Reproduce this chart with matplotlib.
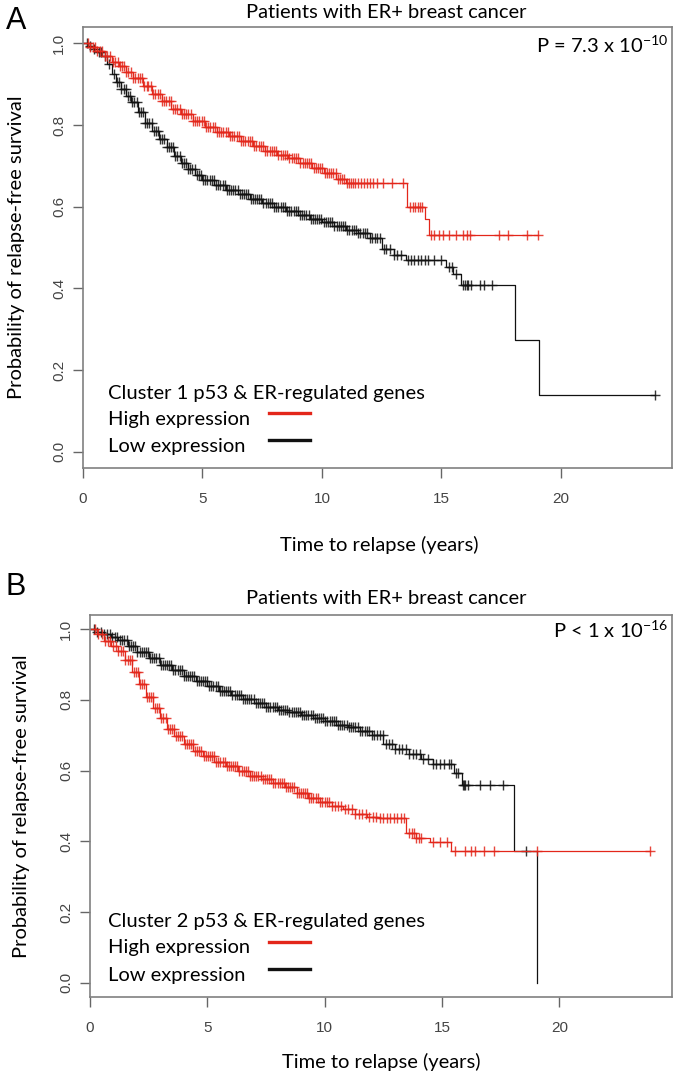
import numpy as np
import matplotlib
matplotlib.use("Agg")
import matplotlib.pyplot as plt
from matplotlib.lines import Line2D

plt.rcParams['font.family'] = ['Lato', 'DejaVu Sans']
plt.rcParams['mathtext.default'] = 'regular'

RED = '#E3261A'
BLACK = '#111111'

# ---- panel A data (Cluster 1) ----
a_high_t = [0, 0.3, 0.6, 0.9, 1.2, 1.5, 1.8, 2.1, 2.5, 2.9, 3.3, 3.7, 4.1, 4.6, 5.1, 5.6, 6.1,
            6.6, 7.1, 7.6, 8.1, 8.6, 9.1, 9.6, 10.1, 10.6, 11.0, 13.56, 14.3, 14.5]
a_high_s = [1.0, 0.992, 0.982, 0.968, 0.955, 0.944, 0.930, 0.915, 0.895, 0.876, 0.858, 0.840, 0.826,
            0.809, 0.795, 0.783, 0.772, 0.760, 0.748, 0.737, 0.727, 0.718, 0.708, 0.695, 0.683,
            0.668, 0.658, 0.598, 0.570, 0.530]
a_high_cens = [0.22, 0.31, 0.4, 0.52, 0.6, 0.71, 0.8, 0.93, 1.02, 1.15, 1.24, 1.33, 1.45, 1.54,
               1.62, 1.73, 1.81, 1.9, 2.01, 2.1, 2.18, 2.29, 2.38, 2.46, 2.57, 2.66, 2.74, 2.85,
               2.94, 3.03, 3.12, 3.21, 3.3, 3.4, 3.49, 3.58, 3.67, 3.76, 3.86, 3.95, 4.04, 4.13,
               4.22, 4.32, 4.41, 4.5, 4.6, 4.69, 4.78, 4.87, 4.96, 5.06, 5.15, 5.24, 5.33, 5.42,
               5.52, 5.61, 5.7, 5.79, 5.88, 5.98, 6.07, 6.16, 6.25, 6.34, 6.44, 6.53, 6.62, 6.71,
               6.8, 6.9, 6.99, 7.08, 7.17, 7.26, 7.36, 7.45, 7.54, 7.63, 7.72, 7.82, 7.91, 8.0,
               8.09, 8.18, 8.28, 8.37, 8.46, 8.55, 8.64, 8.74, 8.83, 8.92, 9.01, 9.1, 9.2, 9.29,
               9.38, 9.47, 9.56, 9.66, 9.75, 9.84, 9.93, 10.02, 10.12, 10.21, 10.3, 10.39, 10.48,
               10.58, 10.67, 10.76, 10.85, 10.94, 11.04, 11.13, 11.22, 11.31, 11.4, 11.5, 11.62,
               11.75, 11.88, 12.0, 12.15, 12.3, 12.55, 12.95, 13.4, 13.7, 13.8, 13.9, 14.0, 14.1,
               14.2, 14.55, 14.7, 14.9, 15.05, 15.3, 15.6, 15.9, 16.05, 16.2, 17.4, 17.8, 18.6,
               19.05]

a_low_t = [0, 0.2, 0.4, 0.6, 0.8, 1.0, 1.2, 1.4, 1.6, 1.8, 2.0, 2.3, 2.6, 2.9, 3.2, 3.5, 3.8, 4.1,
           4.4, 4.7, 5.0, 5.5, 6.0, 6.5, 7.0, 7.5, 8.0, 8.5, 9.0, 9.5, 10.0, 10.5, 11.0, 11.5,
           12.0, 12.5, 13.0, 13.5, 15.2, 15.5, 15.8, 18.1, 19.1]
a_low_s = [1.0, 0.993, 0.985, 0.978, 0.970, 0.950, 0.925, 0.905, 0.888, 0.872, 0.856, 0.832, 0.806,
           0.785, 0.765, 0.745, 0.725, 0.708, 0.692, 0.678, 0.666, 0.652, 0.642, 0.630, 0.620,
           0.610, 0.600, 0.590, 0.580, 0.571, 0.563, 0.553, 0.543, 0.535, 0.524, 0.496, 0.482,
           0.470, 0.452, 0.434, 0.408, 0.273, 0.138]
a_low_cens = [0.15, 0.3, 0.45, 0.65, 0.75, 0.9, 1.1, 1.3, 1.42, 1.51, 1.6, 1.7, 1.79, 1.88, 1.97,
              2.06, 2.15, 2.24, 2.33, 2.42, 2.51, 2.6, 2.69, 2.78, 2.87, 2.96, 3.05, 3.14, 3.23,
              3.32, 3.41, 3.5, 3.59, 3.68, 3.77, 3.86, 3.95, 4.04, 4.13, 4.22, 4.31, 4.4, 4.49,
              4.58, 4.67, 4.76, 4.85, 4.94, 5.03, 5.12, 5.21, 5.3, 5.39, 5.48, 5.57, 5.66, 5.75,
              5.84, 5.93, 6.02, 6.11, 6.2, 6.29, 6.38, 6.47, 6.56, 6.65, 6.74, 6.83, 6.92, 7.01,
              7.1, 7.19, 7.28, 7.37, 7.46, 7.55, 7.64, 7.73, 7.82, 7.91, 8.0, 8.09, 8.18, 8.27,
              8.36, 8.45, 8.54, 8.63, 8.72, 8.81, 8.9, 8.99, 9.08, 9.17, 9.26, 9.35, 9.44, 9.53,
              9.62, 9.71, 9.8, 9.89, 9.98, 10.07, 10.16, 10.25, 10.34, 10.43, 10.52, 10.61,
              10.7, 10.79, 10.88, 10.97, 11.06, 11.15, 11.24, 11.33, 11.42, 11.51, 11.6, 11.7,
              11.8, 11.9, 12.0, 12.1, 12.2, 12.32, 12.45, 12.58, 12.7, 12.85, 13.0, 13.15, 13.3,
              13.6, 13.72, 13.85, 14.0, 14.15, 14.3, 14.45, 14.7, 15.0, 15.3, 15.45, 15.6, 15.9,
              15.97, 16.05, 16.12, 16.25, 16.6, 16.8, 17.1, 23.95]

# ---- panel B data (Cluster 2) ----
b_high_t = [0, 0.3, 0.6, 0.9, 1.2, 1.5, 1.8, 2.1, 2.4, 2.7, 3.0, 3.3, 3.6, 4.0, 4.4, 4.8, 5.3,
            5.8, 6.3, 6.8, 7.3, 7.8, 8.3, 8.8, 9.3, 9.8, 10.3, 10.8, 11.3, 11.8, 12.3, 13.47,
            13.9, 14.5, 15.4]
b_high_s = [1.0, 0.985, 0.966, 0.952, 0.938, 0.912, 0.880, 0.845, 0.808, 0.777, 0.748, 0.718,
            0.698, 0.676, 0.655, 0.640, 0.625, 0.612, 0.598, 0.586, 0.576, 0.566, 0.555, 0.538,
            0.522, 0.510, 0.500, 0.492, 0.478, 0.470, 0.465, 0.425, 0.410, 0.397, 0.372]
b_high_cens = [0.2, 0.35, 0.5, 0.62, 0.75, 0.85, 0.97, 1.1, 1.2, 1.31, 1.4, 1.5, 1.6, 1.69, 1.78,
               1.87, 1.96, 2.05, 2.14, 2.23, 2.32, 2.41, 2.5, 2.59, 2.68, 2.77, 2.86, 2.95, 3.04,
               3.13, 3.22, 3.31, 3.4, 3.49, 3.58, 3.67, 3.76, 3.85, 3.94, 4.03, 4.12, 4.21, 4.3,
               4.39, 4.48, 4.57, 4.66, 4.75, 4.84, 4.93, 5.02, 5.11, 5.2, 5.29, 5.38, 5.47, 5.56,
               5.65, 5.74, 5.83, 5.92, 6.01, 6.1, 6.19, 6.28, 6.37, 6.46, 6.55, 6.64, 6.73, 6.82,
               6.91, 7.0, 7.09, 7.18, 7.27, 7.36, 7.45, 7.54, 7.63, 7.72, 7.81, 7.9, 7.99, 8.08,
               8.17, 8.26, 8.35, 8.44, 8.53, 8.62, 8.71, 8.8, 8.89, 8.98, 9.07, 9.16, 9.25, 9.34,
               9.43, 9.52, 9.61, 9.7, 9.8, 9.9, 10.0, 10.1, 10.2, 10.32, 10.45, 10.58, 10.7,
               10.85, 11.0, 11.15, 11.3, 11.45, 11.6, 11.75, 11.9, 12.05, 12.2, 12.35, 12.5,
               12.65, 12.8, 12.95, 13.1, 13.25, 13.4, 13.6, 13.7, 13.8, 13.9, 14.0, 14.1, 14.6,
               14.9, 15.2, 15.55, 16.0, 16.25, 16.4, 16.8, 17.2, 19.05, 23.87]

b_low_t = [0, 0.3, 0.6, 0.9, 1.2, 1.6, 2.0, 2.5, 3.0, 3.5, 4.0, 4.5, 5.0, 5.5, 6.0, 6.5, 7.0,
           7.5, 8.0, 8.5, 9.0, 9.5, 10.0, 10.5, 11.0, 11.5, 12.0, 12.5, 13.0, 13.6, 14.1, 14.6,
           15.5, 15.85, 18.05, 19.05]
b_low_s = [1.0, 0.993, 0.985, 0.978, 0.968, 0.952, 0.935, 0.918, 0.900, 0.885, 0.868, 0.852,
           0.840, 0.826, 0.814, 0.802, 0.790, 0.780, 0.772, 0.765, 0.758, 0.750, 0.740, 0.730,
           0.722, 0.712, 0.700, 0.676, 0.662, 0.648, 0.632, 0.620, 0.594, 0.560, 0.372, 0.0]
b_low_cens = [0.15, 0.3, 0.45, 0.6, 0.72, 0.84, 0.95, 1.06, 1.16, 1.26, 1.36, 1.46, 1.56, 1.66,
              1.75, 1.84, 1.93, 2.02, 2.11, 2.2, 2.29, 2.38, 2.47, 2.56, 2.65, 2.74, 2.83, 2.92,
              3.01, 3.1, 3.19, 3.28, 3.37, 3.46, 3.55, 3.64, 3.73, 3.82, 3.91, 4.0, 4.09, 4.18,
              4.27, 4.36, 4.45, 4.54, 4.63, 4.72, 4.81, 4.9, 4.99, 5.08, 5.17, 5.26, 5.35, 5.44,
              5.53, 5.62, 5.71, 5.8, 5.89, 5.98, 6.07, 6.16, 6.25, 6.34, 6.43, 6.52, 6.61, 6.7,
              6.79, 6.88, 6.97, 7.06, 7.15, 7.24, 7.33, 7.42, 7.51, 7.6, 7.69, 7.78, 7.87, 7.96,
              8.05, 8.14, 8.23, 8.32, 8.41, 8.5, 8.59, 8.68, 8.77, 8.86, 8.95, 9.04, 9.13, 9.22,
              9.31, 9.4, 9.49, 9.58, 9.67, 9.76, 9.85, 9.94, 10.03, 10.12, 10.21, 10.3, 10.39,
              10.48, 10.57, 10.66, 10.75, 10.84, 10.93, 11.02, 11.11, 11.2, 11.3, 11.4, 11.5,
              11.6, 11.7, 11.8, 11.9, 12.0, 12.12, 12.24, 12.36, 12.48, 12.6, 12.72, 12.85, 13.0,
              13.15, 13.3, 13.45, 13.6, 13.75, 13.9, 14.05, 14.2, 14.4, 14.6, 14.75, 14.9, 15.1,
              15.3, 15.4, 15.6, 15.7, 15.9, 15.95, 16.0, 16.1, 16.6, 17.05, 17.6, 18.57]

W, H = 681, 1075
fig = plt.figure(figsize=(W / 100, H / 100), dpi=100)


def px_rect(left, top, right, bottom):
    return [left / W, 1 - bottom / H, (right - left) / W, (bottom - top) / H]


def fx(x):
    return x / W


def fy(y):
    return 1 - y / H


def km(ax, t, s, cens, color):
    t = np.asarray(t, float)
    s = np.asarray(s, float)
    c = np.asarray(cens, float)
    t_end = max(t[-1], c.max())
    ax.step(np.append(t, t_end), np.append(s, s[-1]), where='post', color=color, lw=0.9)
    cy = s[np.searchsorted(t, c, side='right') - 1]
    ax.plot(c, cy, ls='none', marker='+', ms=7, mew=1.0, color=color, alpha=0.85)


def style(ax, xmax):
    ax.set_xlim(0, xmax)
    ax.set_ylim(-0.04, 1.04)
    ax.set_xticks([0, 5, 10, 15, 20])
    ax.set_yticks([0.0, 0.2, 0.4, 0.6, 0.8, 1.0])
    ax.set_yticklabels(['0.0', '0.2', '0.4', '0.6', '0.8', '1.0'], rotation=90, va='center')
    for sp in ax.spines.values():
        sp.set_color('#808080')
        sp.set_linewidth(1.2)
    ax.tick_params(direction='out', length=7, width=1, color='#666666', labelcolor='#444444')
    for lab in ax.get_xticklabels() + ax.get_yticklabels():
        lab.set_family('Liberation Sans')
        lab.set_fontsize(11)
    ax.tick_params(axis='x', pad=10)
    ax.tick_params(axis='y', pad=5)


def legend(title, y0, x0=108):
    fs = 14.5
    fig.text(fx(x0), fy(y0), title, fontsize=fs, va='center', ha='left')
    fig.text(fx(x0), fy(y0 + 26), 'High expression', fontsize=fs, va='center', ha='left')
    fig.text(fx(x0), fy(y0 + 54), 'Low expression', fontsize=fs, va='center', ha='left')
    fig.add_artist(Line2D([fx(269), fx(310)], [fy(y0 + 20), fy(y0 + 20)], color=RED, lw=2.4))
    fig.add_artist(Line2D([fx(269), fx(310)], [fy(y0 + 47), fy(y0 + 47)], color=BLACK, lw=2.4))


# ---- panel A ----
axA = fig.add_axes(px_rect(83, 27, 672, 468))
km(axA, a_low_t, a_low_s, a_low_cens, BLACK)
km(axA, a_high_t, a_high_s, a_high_cens, RED)
style(axA, 24.65)
fig.text(fx(6), fy(21), 'A', fontsize=22, family='Liberation Sans', va='center', ha='left')
fig.text(fx(386), fy(12), 'Patients with ER+ breast cancer', fontsize=14.5, ha='center', va='center')
fig.text(fx(668), fy(45), r'P = 7.3 x 10$^{-10}$', fontsize=14.5, ha='right', va='center')
fig.text(fx(17), fy(247), 'Probability of relapse-free survival', fontsize=14.5,
         rotation=90, ha='center', va='center')
fig.text(fx(379), fy(545), 'Time to relapse (years)', fontsize=14.5, ha='center', va='center')
legend('Cluster 1 p53 & ER-regulated genes', 393)

# ---- panel B ----
axB = fig.add_axes(px_rect(90, 615, 672, 997))
km(axB, b_low_t, b_low_s, b_low_cens, BLACK)
km(axB, b_high_t, b_high_s, b_high_cens, RED)
style(axB, 24.8)
fig.text(fx(6), fy(587), 'B', fontsize=22, family='Liberation Sans', va='center', ha='left')
fig.text(fx(386), fy(598), 'Patients with ER+ breast cancer', fontsize=14.5, ha='center', va='center')
fig.text(fx(668), fy(630), r'P < 1 x 10$^{-16}$', fontsize=14.5, ha='right', va='center')
fig.text(fx(22), fy(806), 'Probability of relapse-free survival', fontsize=14.5,
         rotation=90, ha='center', va='center')
fig.text(fx(381), fy(1062), 'Time to relapse (years)', fontsize=14.5, ha='center', va='center')
legend('Cluster 2 p53 & ER-regulated genes', 922, x0=108)

fig.savefig('out.png', dpi=100)
